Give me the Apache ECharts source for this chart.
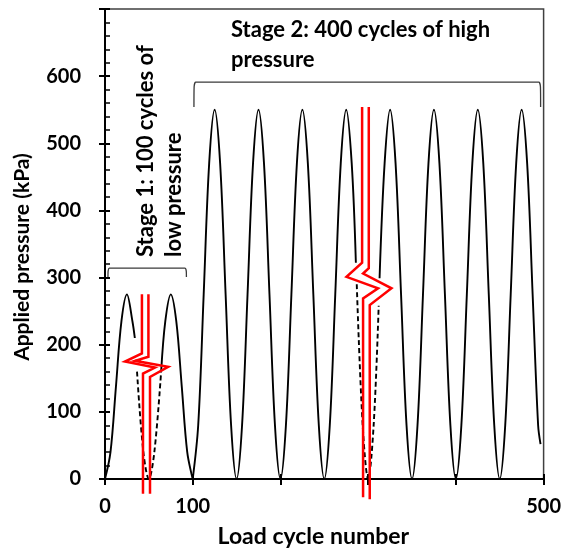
<!DOCTYPE html>
<html>
<head>
<meta charset="utf-8">
<script src="https://cdn.jsdelivr.net/npm/echarts@6/dist/echarts.min.js"></script>
<style>html,body{margin:0;padding:0;background:#fff}#c{width:564px;height:553px}</style>
</head>
<body>
<div id="c"></div>
<script>
// ---- data (x: load cycle, y: kPa) ----
var xShownLabels = [0, 100, 500];
var yShownLabels = [0, 100, 200, 300, 400, 500, 600];

var stage1SolidA = [[0,0],[6.25,40],[12.5,138],[18.75,235],[25,275],[31.25,235],[34,210]];
var stage1Dashed = [[36.5,160],[43.75,40],[50,0],[56.25,40],[64,160]];
var stage1SolidB = [[64,160],[68.75,235],[75,275],[81.25,235],[87.5,138],[93.75,40],[100,0]];

var stage2SolidAx = [100,106.25,112.5,118.75,125,131.25,137.5,143.75,150,156.25,162.5,168.75,175,181.25,187.5,193.75,200,206.25,212.5,218.75,225,231.25,237.5,243.75,250,256.25,262.5,268.75,275,281.25,286];
var stage2SolidAy = [0,80,275,470,550,470,275,80,0,80,275,470,550,470,275,80,0,80,275,470,550,470,275,80,0,80,275,470,550,470,322];
var stage2Dashed = [[287,290],[293.75,80],[300,0],[306.25,80],[312,258]];
var stage2SolidBx = [313,318.75,325,331.25,337.5,343.75,350,356.25,362.5,368.75,375,381.25,387.5,393.75,400,406.25,412.5,418.75,425,431.25,437.5,443.75,450,456.25,462.5,468.75,475,481.25,487.5,493.75,496.5];
var stage2SolidBy = [299,470,550,470,275,80,0,80,275,470,550,470,275,80,0,80,275,470,550,470,275,80,0,80,275,470,550,470,275,80,52];

// break symbols (two strands each)
var break1A = [[42.1,275],[42.1,187],[22.8,175],[57,166],[43.3,157],[43.3,-22]];
var break1B = [[49.5,275],[49.5,182],[34.2,176],[72,167],[51.3,152],[51.3,-22]];
var break2A = [[293.1,554],[293.1,322],[275.3,301],[311.3,284],[294.2,269],[294.2,-27]];
var break2B = [[300.7,554],[300.7,314],[294.2,306],[326.6,284],[301.8,259],[301.8,-30]];

// brackets
var bracket1 = [[3.4,301],[3.6,310],[5,314],[91,314],[92.6,310],[92.8,301]];
var bracket2 = [[101.4,554],[101.6,584],[103.5,591],[494.5,591],[496.4,584],[496.6,554]];

function zip(xs, ys){ return xs.map(function(x,i){ return [x, ys[i]]; }); }

var FONT = 'Lato';
var chart = echarts.init(document.getElementById('c'), null, {renderer:'canvas'});

function curve(data, dashed){
  return {type:'line', data:data, showSymbol:false, smooth:0.35, silent:true,
    lineStyle:{color:'#000', width:1.9, type: dashed ? [5,3] : 'solid'}, z:3};
}
function redLine(data){
  return {type:'line', data:data, showSymbol:false, clip:false, silent:true,
    lineStyle:{color:'#ff0000', width:2.5, join:'miter'}, z:5};
}
function bracket(data){
  return {type:'line', data:data, showSymbol:false, smooth:0.2, clip:false, silent:true,
    lineStyle:{color:'#3a3a3a', width:1.3}, z:4};
}

var labelFont = {fontFamily:FONT, fontWeight:'bold', fontSize:20, color:'#000'};

chart.setOption({
  animation:false,
  grid:{left:105, right:20, top:9, bottom:74, show:true, borderColor:'#404040', borderWidth:1.5, backgroundColor:'transparent'},
  xAxis:[{
    type:'value', min:0, max:500, interval:100, position:'bottom',
    name:'Load cycle number', nameLocation:'middle', nameGap:46,
    nameTextStyle:{fontFamily:FONT, fontWeight:'bold', fontSize:23, color:'#000', padding:[0,22,0,0]},
    axisLine:{show:true, onZero:false, lineStyle:{color:'#000', width:2}},
    axisTick:{show:true, inside:false, length:6, lineStyle:{color:'#000', width:2}},
    axisLabel:Object.assign({margin:18, formatter:function(v){ return xShownLabels.indexOf(v) >= 0 ? String(v) : ''; }}, labelFont),
    splitLine:{show:false}
  },{
    type:'value', min:0, max:500, interval:100, position:'bottom',
    axisLine:{show:false}, axisLabel:{show:false}, splitLine:{show:false},
    axisTick:{show:true, inside:true, length:5, lineStyle:{color:'#000', width:2}}
  }],
  yAxis:[{
    type:'value', min:0, max:700, interval:100, position:'left',
    name:'Applied pressure (kPa)', nameLocation:'middle', nameGap:72, nameRotate:90,
    nameTextStyle:{fontFamily:FONT, fontWeight:'bold', fontSize:21, color:'#000', padding:[0,26,0,0]},
    axisLine:{show:true, onZero:false, lineStyle:{color:'#000', width:2}},
    axisTick:{show:true, inside:false, length:6, lineStyle:{color:'#000', width:2}},
    axisLabel:Object.assign({margin:24, formatter:function(v){ return yShownLabels.indexOf(v) >= 0 ? String(v) : ''; }}, labelFont),
    splitLine:{show:false}
  },{
    type:'value', min:0, max:700, interval:100, position:'left',
    axisLine:{show:false}, axisLabel:{show:false}, splitLine:{show:false},
    axisTick:{show:true, inside:true, length:5, lineStyle:{color:'#000', width:2}},
    minorTick:{show:true, splitNumber:5, length:5, lineStyle:{color:'#000', width:1.5}}
  }],
  series:[
    curve(stage1SolidA,false), curve(stage1Dashed,true), curve(stage1SolidB,false),
    curve(zip(stage2SolidAx,stage2SolidAy),false), curve(stage2Dashed,true), curve(zip(stage2SolidBx,stage2SolidBy),false),
    redLine(break1A), redLine(break1B), redLine(break2A), redLine(break2B),
    bracket(bracket1), bracket(bracket2)
  ],
  graphic:[
    {type:'text', x:231, y:15, z:10, silent:true,
     style:{text:'Stage 2: 400 cycles of high\npressure', font:'bold 22px Lato', lineHeight:30, fill:'#000', align:'left', verticalAlign:'top'}},
    {type:'text', x:132, y:257, rotation:Math.PI/2, z:10, silent:true,
     style:{text:'Stage 1: 100 cycles of\nlow pressure', font:'bold 22px Lato', lineHeight:28, fill:'#000', align:'left', verticalAlign:'top'}}
  ]
});
</script>
</body>
</html>
